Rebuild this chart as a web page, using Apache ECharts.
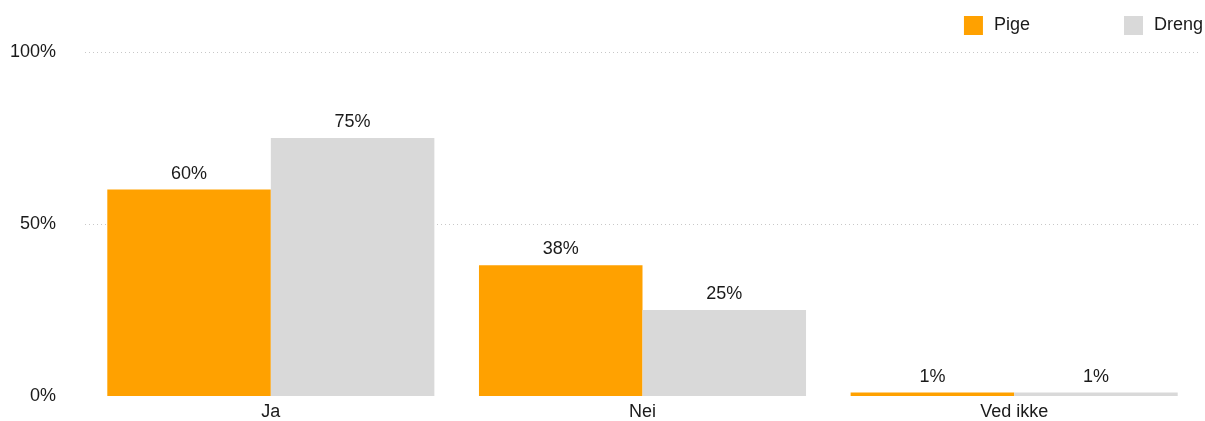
<!DOCTYPE html>
<html>
<head>
<meta charset="utf-8">
<script src="https://cdn.jsdelivr.net/npm/echarts@6/dist/echarts.min.js"></script>
<style>
  html, body { margin: 0; padding: 0; background: #fff; }
  #chart { width: 1205px; height: 421px; }
</style>
</head>
<body>
<div id="chart"></div>
<script>
// Answer categories and share of respondents (%) by gender
const categories = ['Ja', 'Nei', 'Ved ikke'];
const pige = [60, 38, 1];
const dreng = [75, 25, 1];
const yTicks = [0, 50, 100];

const FONT = '"Liberation Sans", Arial, Helvetica, sans-serif';
const FS = 18;

const chart = echarts.init(document.getElementById('chart'));
chart.setOption({
  animation: false,
  textStyle: { fontFamily: FONT },
  legend: {
    top: 16,
    right: 2,
    padding: 0,
    itemWidth: 19,
    itemHeight: 19,
    itemGap: 94,
    icon: 'rect',
    textStyle: { fontSize: FS, color: '#1a1a1a', fontFamily: FONT, padding: [0, 0, 0, 6] },
    data: ['Pige', 'Dreng']
  },
  grid: { left: 85, right: 5, top: 52, bottom: 23, containLabel: false },
  xAxis: {
    type: 'category',
    data: categories,
    axisLine: { show: false },
    axisTick: { show: false },
    axisLabel: { fontSize: FS, color: '#1a1a1a', margin: 7, fontFamily: FONT }
  },
  yAxis: {
    type: 'value',
    min: yTicks[0],
    max: yTicks[yTicks.length - 1],
    interval: 50,
    axisLine: { show: false },
    axisTick: { show: false },
    axisLabel: { fontSize: FS, color: '#1a1a1a', margin: 29, formatter: '{value}%', fontFamily: FONT },
    splitLine: { show: true, lineStyle: { color: ['rgba(0,0,0,0)', '#c8c8c8', '#c8c8c8'], type: [1, 3], width: 1 } }
  },
  series: [
    {
      name: 'Pige',
      type: 'bar',
      data: pige,
      barGap: '0%',
      barCategoryGap: '12%',
      itemStyle: { color: '#ffa100' },
      label: { show: true, position: 'top', distance: 7, formatter: '{c}%', fontSize: FS, color: '#1a1a1a', fontFamily: FONT }
    },
    {
      name: 'Dreng',
      type: 'bar',
      data: dreng,
      barGap: '0%',
      barCategoryGap: '12%',
      itemStyle: { color: '#d9d9d9' },
      label: { show: true, position: 'top', distance: 7, formatter: '{c}%', fontSize: FS, color: '#1a1a1a', fontFamily: FONT }
    }
  ]
});
</script>
</body>
</html>
